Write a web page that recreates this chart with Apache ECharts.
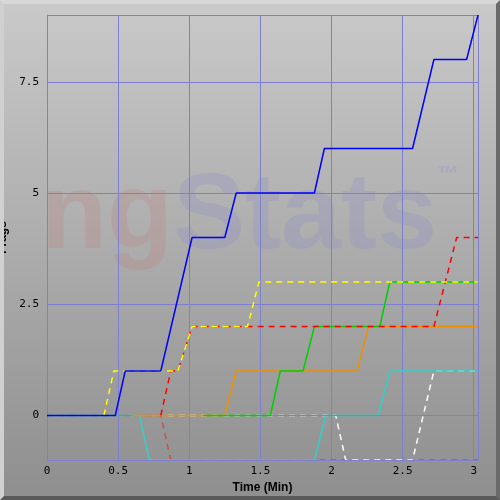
<!DOCTYPE html>
<html>
<head>
<meta charset="utf-8">
<script src="https://cdn.jsdelivr.net/npm/echarts@6/dist/echarts.min.js"></script>
<style>
html, body {margin: 0; padding: 0;}
#frame {
    width: 500px; height: 500px; box-sizing: border-box;
    border: 4px solid; border-color: #d8d8d8 #6a6a6a #5a5a5a #d0d0d0;
    background: linear-gradient(#c9c9c9, #8f8f8f);
}
#chart {width: 492px; height: 492px;}
</style>
</head>
<body>
<div id="frame"><div id="chart"></div></div>
<script>
const yTicks = [0, 2.5, 5, 7.5];

const blue = [[0, 0], [0.48, 0], [0.55, 1], [0.8, 1], [1.02, 4], [1.25, 4], [1.33, 5], [1.88, 5], [1.95, 6], [2.57, 6], [2.72, 8], [2.95, 8], [3.03, 9]];
const yellow = [[0.4, 0], [0.47, 1], [0.92, 1], [1.02, 2], [1.41, 2], [1.49, 3], [3.03, 3]];
const red = [[0.8, 0], [0.87, 1], [0.92, 1], [1.02, 2], [2.72, 2], [2.88, 4], [3.03, 4]];
const dullRed = [[0, 0], [0.8, 0], [0.87, -1], [3.03, -1]];
const cyan = [[0, 0], [0.65, 0], [0.72, -1], [1.88, -1], [1.96, 0], [2.33, 0], [2.41, 1], [3.03, 1]];
const orange = [[0.6, 0], [1.25, 0], [1.33, 1], [2.18, 1], [2.26, 2], [3.03, 2]];
const green = [[1.1, 0], [1.57, 0], [1.64, 1], [1.8, 1], [1.88, 2], [2.34, 2], [2.41, 3], [3.03, 3]];
const white = [[0.85, 0], [2.03, 0], [2.1, -1], [2.57, -1], [2.72, 1], [3.03, 1]];

const line = (data, color, dashed, z) => ({
    type: 'line', data, symbol: 'none', z,
    lineStyle: {color, width: 1.5, type: dashed ? [6, 5] : 'solid'},
});

const chart = echarts.init(document.getElementById('chart'));
chart.setOption({
    animation: false,
    grid: {left: 43, right: 18, top: 11, bottom: 36, outerBoundsMode: 'none', containLabel: false},
    graphic: [{
        type: 'text', left: 'center', top: 160, z: 0, silent: true,
        style: {
            rich: {
                a: {fill: 'rgba(190,130,130,0.28)', font: 'bold 108px Arial'},
                b: {fill: 'rgba(140,140,200,0.28)', font: 'bold 108px Arial'},
                c: {fill: 'rgba(150,150,200,0.35)', font: 'bold 22px Arial', verticalAlign: 'top'},
            },
            text: '{a|ng}{b|Stats}{c|™}',
        },
    }],
    xAxis: {
        type: 'value', min: 0, max: 3.03, interval: 0.5,
        name: 'Time (Min)', nameLocation: 'middle', nameGap: 22,
        nameTextStyle: {color: '#000', fontWeight: 'bold', fontSize: 12, fontFamily: 'Arial'},
        axisLine: {lineStyle: {color: '#7f7fd0'}},
        axisTick: {show: false},
        axisLabel: {color: '#000', fontFamily: 'DejaVu Sans Mono', fontSize: 11, margin: 6,
            formatter: v => (v > 3.01 ? '' : String(v))},
        splitLine: {lineStyle: {color: '#7f7fd0'}},
    },
    yAxis: {
        type: 'value', min: -1, max: 9,
        name: 'Frags', nameLocation: 'middle', nameGap: 28,
        nameTextStyle: {color: '#000', fontWeight: 'bold', fontSize: 12, fontFamily: 'Arial'},
        axisLine: {show: true, lineStyle: {color: '#7f7fd0'}},
        axisTick: {show: false},
        axisLabel: {color: '#000', fontFamily: 'DejaVu Sans Mono', fontSize: 11,
            customValues: yTicks},
        splitLine: {show: false},
    },
    series: [
        {
            type: 'line', data: [], z: 1,
            markLine: {
                silent: true, symbol: 'none', label: {show: false},
                lineStyle: {color: '#7f7fd0', type: 'solid', width: 1},
                data: yTicks.map(v => ({yAxis: v})).concat([{yAxis: 9}, {yAxis: -1}, {xAxis: 3.03}]),
            },
        },
        line(dullRed, '#c85050', true, 2),
        line(white, '#ffffff', true, 3),
        line(cyan, '#30d0c8', false, 4),
        line(orange, '#f09000', false, 5),
        line(green, '#00d000', false, 6),
        line(red, '#ff0000', true, 7),
        line(yellow, '#ffff00', true, 8),
        line(blue, '#0000ff', false, 9),
    ],
});
</script>
</body>
</html>
